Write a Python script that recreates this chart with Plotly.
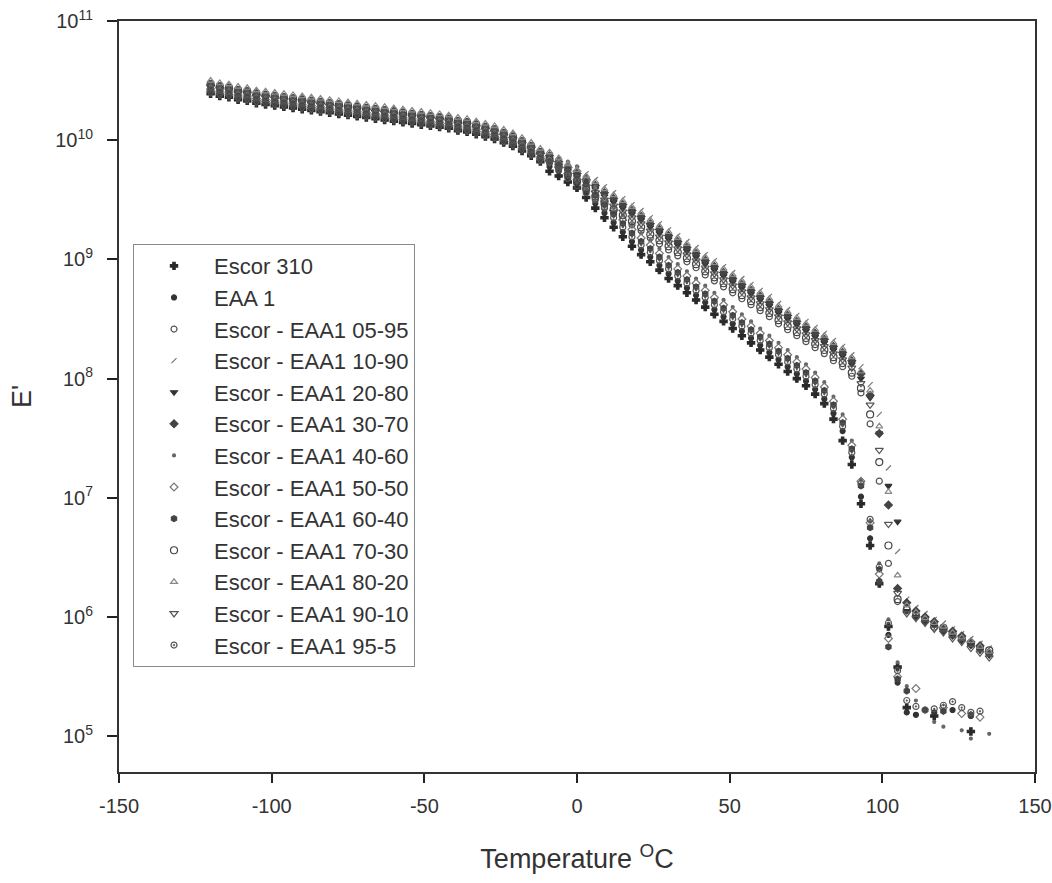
import plotly.graph_objects as go

# temperature of each reading (deg C), shared by every sample
temp_c = [-120, -117, -114, -111, -108, -105, -102, -99, -96, -93,
          -90, -87, -84, -81, -78, -75, -72, -69, -66, -63,
          -60, -57, -54, -51, -48, -45, -42, -39, -36, -33,
          -30, -27, -24, -21, -18, -15, -12, -9, -6, -3,
          0, 3, 6, 9, 12, 15, 18, 21, 24, 27,
          30, 33, 36, 39, 42, 45, 48, 51, 54, 57,
          60, 63, 66, 69, 72, 75, 78, 81, 84, 87,
          90, 93, 96, 99, 102, 105, 108, 111, 114, 117,
          120, 123, 126, 129, 132, 135]

# log10 of E'; rows are -120..-12, -9..45, 48..135
escor_310 = [
    10.39, 10.37, 10.36, 10.34, 10.33, 10.31, 10.30, 10.29, 10.28, 10.27, 10.26, 10.25, 10.24, 10.23, 10.22, 10.21, 10.20, 10.19, 10.18, 10.17, 10.16, 10.15, 10.14, 10.13, 10.12, 10.11, 10.10, 10.08, 10.07, 10.05, 10.03, 10.01, 9.98, 9.95, 9.91, 9.87, 9.82,
    9.74, 9.70, 9.65, 9.60, 9.52, 9.43, 9.35, 9.27, 9.19, 9.11, 9.04, 8.98, 8.91, 8.84, 8.78, 8.72, 8.66, 8.60, 8.54,
    8.48, 8.42, 8.36, 8.30, 8.24, 8.18, 8.12, 8.06, 8.00, 7.94, 7.87, 7.79, 7.66, 7.48, 7.28, 6.95, 6.60, 6.28, 5.92, 5.58, 5.24, None, None, 5.17, None, None, None, 5.04, None, None,
]
eaa_1 = [
    10.41, 10.39, 10.38, 10.36, 10.35, 10.33, 10.32, 10.31, 10.30, 10.29, 10.28, 10.27, 10.26, 10.25, 10.24, 10.23, 10.22, 10.21, 10.20, 10.19, 10.18, 10.17, 10.16, 10.15, 10.14, 10.13, 10.12, 10.10, 10.09, 10.07, 10.05, 10.03, 10.00, 9.97, 9.93, 9.89, 9.84,
    9.78, 9.74, 9.69, 9.64, 9.56, 9.47, 9.39, 9.31, 9.23, 9.15, 9.08, 9.02, 8.95, 8.88, 8.82, 8.76, 8.70, 8.64, 8.58,
    8.52, 8.46, 8.40, 8.34, 8.28, 8.22, 8.16, 8.10, 8.04, 7.98, 7.91, 7.83, 7.71, 7.56, 7.34, 7.01, 6.66, 6.40, 5.85, 5.45, 5.20, 5.18, None, 5.20, None, 5.22, None, 5.17, None, None,
]
blend_05_95 = [
    10.46, 10.43, 10.43, 10.40, 10.40, 10.37, 10.37, 10.35, 10.35, 10.33, 10.33, 10.31, 10.31, 10.29, 10.29, 10.27, 10.27, 10.25, 10.25, 10.23, 10.23, 10.21, 10.21, 10.19, 10.19, 10.17, 10.17, 10.14, 10.14, 10.11, 10.10, 10.07, 10.05, 10.01, 9.98, 9.93, 9.89,
    9.82, 9.75, 9.68, 9.62, 9.56, 9.50, 9.44, 9.39, 9.34, 9.29, 9.24, 9.18, 9.13, 9.08, 9.03, 8.98, 8.93, 8.87, 8.82,
    8.77, 8.72, 8.67, 8.62, 8.57, 8.52, 8.46, 8.41, 8.36, 8.31, 8.26, 8.21, 8.15, 8.10, 8.02, 7.88, 7.62, 7.14, 6.45, 6.13, 6.07, 6.03, 5.98, 5.94, 5.89, 5.85, 5.82, 5.77, 5.75, 5.69,
]
blend_10_90 = [
    10.48, 10.46, 10.45, 10.43, 10.42, 10.40, 10.39, 10.38, 10.37, 10.36, 10.35, 10.34, 10.33, 10.32, 10.31, 10.30, 10.29, 10.28, 10.27, 10.26, 10.25, 10.24, 10.23, 10.22, 10.21, 10.20, 10.19, 10.17, 10.16, 10.14, 10.12, 10.10, 10.07, 10.04, 10.00, 9.96, 9.91,
    9.88, 9.84, 9.80, 9.76, 9.72, 9.67, 9.61, 9.56, 9.51, 9.46, 9.41, 9.35, 9.30, 9.25, 9.20, 9.15, 9.10, 9.04, 8.99,
    8.94, 8.89, 8.84, 8.79, 8.74, 8.69, 8.63, 8.58, 8.53, 8.48, 8.43, 8.38, 8.32, 8.27, 8.20, 8.10, 7.95, 7.70, 7.25, 6.55, 6.15, 6.08, 6.03, 5.98, 5.95, 5.90, 5.86, 5.82, 5.78, 5.74,
]
blend_20_80 = [
    10.44, 10.42, 10.41, 10.39, 10.38, 10.36, 10.35, 10.34, 10.33, 10.32, 10.31, 10.30, 10.29, 10.28, 10.27, 10.26, 10.25, 10.24, 10.23, 10.22, 10.21, 10.20, 10.19, 10.18, 10.17, 10.16, 10.15, 10.13, 10.12, 10.10, 10.08, 10.06, 10.03, 10.00, 9.96, 9.92, 9.87,
    9.84, 9.79, 9.74, 9.69, 9.64, 9.59, 9.53, 9.48, 9.43, 9.38, 9.33, 9.27, 9.22, 9.17, 9.12, 9.07, 9.02, 8.96, 8.91,
    8.86, 8.81, 8.76, 8.71, 8.66, 8.61, 8.55, 8.50, 8.45, 8.40, 8.35, 8.30, 8.24, 8.19, 8.12, 8.00, 7.84, 7.54, 7.10, 6.80, 6.05, 6.00, 5.96, 5.93, 5.88, 5.84, 5.80, 5.76, 5.72, 5.68,
]
blend_30_70 = [
    10.46, 10.44, 10.43, 10.41, 10.40, 10.38, 10.37, 10.36, 10.35, 10.34, 10.33, 10.32, 10.31, 10.30, 10.29, 10.28, 10.27, 10.26, 10.25, 10.24, 10.23, 10.22, 10.21, 10.20, 10.19, 10.18, 10.17, 10.15, 10.14, 10.12, 10.10, 10.08, 10.05, 10.02, 9.98, 9.94, 9.89,
    9.87, 9.82, 9.77, 9.72, 9.67, 9.62, 9.56, 9.51, 9.46, 9.41, 9.36, 9.30, 9.25, 9.20, 9.15, 9.10, 9.05, 8.99, 8.94,
    8.89, 8.84, 8.79, 8.74, 8.69, 8.64, 8.58, 8.53, 8.48, 8.43, 8.38, 8.33, 8.27, 8.22, 8.15, 8.04, 7.86, 7.54, 6.94, 6.24, 6.12, 6.05, 6.00, 5.96, 5.90, 5.88, 5.84, 5.79, 5.76, 5.70,
]
blend_40_60 = [
    10.49, 10.47, 10.46, 10.44, 10.43, 10.41, 10.40, 10.39, 10.38, 10.37, 10.36, 10.35, 10.34, 10.33, 10.32, 10.31, 10.30, 10.29, 10.28, 10.27, 10.26, 10.25, 10.24, 10.23, 10.22, 10.21, 10.20, 10.18, 10.17, 10.15, 10.13, 10.11, 10.08, 10.05, 10.01, 9.97, 9.92,
    9.88, 9.85, 9.82, 9.78, 9.70, 9.61, 9.53, 9.45, 9.37, 9.29, 9.22, 9.16, 9.09, 9.02, 8.96, 8.90, 8.84, 8.78, 8.72,
    8.66, 8.60, 8.54, 8.48, 8.42, 8.36, 8.30, 8.24, 8.18, 8.12, 8.05, 7.97, 7.85, 7.70, 7.48, 7.15, 6.80, 6.45, 5.98, 5.62, 5.42, 5.30, None, 5.12, 5.08, None, 5.05, 4.98, None, 5.02,
]
blend_50_50 = [
    10.43, 10.41, 10.40, 10.38, 10.37, 10.35, 10.34, 10.33, 10.32, 10.31, 10.30, 10.29, 10.28, 10.27, 10.26, 10.25, 10.24, 10.23, 10.22, 10.21, 10.20, 10.19, 10.18, 10.17, 10.16, 10.15, 10.14, 10.12, 10.11, 10.09, 10.07, 10.05, 10.02, 9.99, 9.95, 9.91, 9.86,
    9.83, 9.80, 9.77, 9.74, 9.66, 9.57, 9.49, 9.41, 9.33, 9.25, 9.18, 9.12, 9.05, 8.98, 8.92, 8.86, 8.80, 8.74, 8.68,
    8.62, 8.56, 8.50, 8.44, 8.38, 8.32, 8.26, 8.20, 8.14, 8.08, 8.01, 7.93, 7.81, 7.66, 7.44, 7.14, 6.79, 6.36, 5.82, 5.50, None, 5.40, None, None, 5.24, None, 5.19, None, 5.16, None,
]
blend_60_40 = [
    10.42, 10.40, 10.39, 10.37, 10.36, 10.34, 10.33, 10.32, 10.31, 10.30, 10.29, 10.28, 10.27, 10.26, 10.25, 10.24, 10.23, 10.22, 10.21, 10.20, 10.19, 10.18, 10.17, 10.16, 10.15, 10.14, 10.13, 10.11, 10.10, 10.08, 10.06, 10.04, 10.01, 9.98, 9.94, 9.90, 9.85,
    9.81, 9.79, 9.76, 9.71, 9.63, 9.54, 9.46, 9.38, 9.30, 9.22, 9.15, 9.09, 9.02, 8.95, 8.89, 8.83, 8.77, 8.71, 8.65,
    8.59, 8.53, 8.47, 8.41, 8.35, 8.29, 8.23, 8.17, 8.11, 8.05, 7.98, 7.90, 7.78, 7.63, 7.41, 7.10, 6.75, 6.30, 5.75, 5.48, 5.38, None, 5.22, None, 5.21, None, None, 5.18, None, None,
]
blend_70_30 = [
    10.47, 10.45, 10.44, 10.42, 10.41, 10.39, 10.38, 10.37, 10.36, 10.35, 10.34, 10.33, 10.32, 10.31, 10.30, 10.29, 10.28, 10.27, 10.26, 10.25, 10.24, 10.23, 10.22, 10.21, 10.20, 10.19, 10.18, 10.16, 10.15, 10.13, 10.11, 10.09, 10.06, 10.03, 9.99, 9.95, 9.90,
    9.84, 9.78, 9.71, 9.65, 9.59, 9.53, 9.47, 9.42, 9.37, 9.32, 9.27, 9.21, 9.16, 9.11, 9.06, 9.01, 8.96, 8.90, 8.85,
    8.80, 8.75, 8.70, 8.65, 8.60, 8.55, 8.49, 8.44, 8.39, 8.34, 8.29, 8.24, 8.18, 8.13, 8.05, 7.92, 7.70, 7.30, 6.60, 6.15, 6.06, 6.01, 5.97, 5.92, 5.91, 5.86, 5.82, 5.78, 5.74, 5.72,
]
blend_80_20 = [
    10.50, 10.48, 10.47, 10.45, 10.44, 10.42, 10.41, 10.40, 10.39, 10.38, 10.37, 10.36, 10.35, 10.34, 10.33, 10.32, 10.31, 10.30, 10.29, 10.28, 10.27, 10.26, 10.25, 10.24, 10.23, 10.22, 10.21, 10.19, 10.18, 10.16, 10.14, 10.12, 10.09, 10.06, 10.02, 9.98, 9.93,
    9.90, 9.85, 9.80, 9.75, 9.70, 9.65, 9.59, 9.54, 9.49, 9.44, 9.39, 9.33, 9.28, 9.23, 9.18, 9.13, 9.08, 9.02, 8.97,
    8.92, 8.87, 8.82, 8.77, 8.72, 8.67, 8.61, 8.56, 8.51, 8.46, 8.41, 8.36, 8.30, 8.25, 8.18, 8.06, 7.90, 7.60, 7.05, 6.35, 6.10, 6.04, 5.99, 5.95, 5.92, 5.87, 5.83, 5.80, 5.75, 5.71,
]
blend_90_10 = [
    10.40, 10.38, 10.37, 10.35, 10.34, 10.32, 10.31, 10.30, 10.29, 10.28, 10.27, 10.26, 10.25, 10.24, 10.23, 10.22, 10.21, 10.20, 10.19, 10.18, 10.17, 10.16, 10.15, 10.14, 10.13, 10.12, 10.11, 10.09, 10.08, 10.06, 10.04, 10.02, 9.99, 9.96, 9.92, 9.88, 9.83,
    9.81, 9.76, 9.71, 9.66, 9.61, 9.56, 9.50, 9.45, 9.40, 9.35, 9.30, 9.24, 9.19, 9.14, 9.09, 9.04, 8.99, 8.93, 8.88,
    8.83, 8.78, 8.73, 8.68, 8.63, 8.58, 8.52, 8.47, 8.42, 8.37, 8.32, 8.27, 8.21, 8.16, 8.09, 7.96, 7.78, 7.40, 6.78, 6.20, 6.03, 5.99, 5.95, 5.90, 5.87, 5.82, 5.79, 5.74, 5.70, 5.66,
]
blend_95_5 = [
    10.45, 10.43, 10.42, 10.40, 10.39, 10.37, 10.36, 10.35, 10.34, 10.33, 10.32, 10.31, 10.30, 10.29, 10.28, 10.27, 10.26, 10.25, 10.24, 10.23, 10.22, 10.21, 10.20, 10.19, 10.18, 10.17, 10.16, 10.14, 10.13, 10.11, 10.09, 10.07, 10.04, 10.01, 9.97, 9.93, 9.88,
    9.82, 9.78, 9.73, 9.68, 9.60, 9.51, 9.43, 9.35, 9.27, 9.19, 9.12, 9.06, 8.99, 8.92, 8.86, 8.80, 8.74, 8.68, 8.62,
    8.56, 8.50, 8.44, 8.38, 8.32, 8.26, 8.20, 8.14, 8.08, 8.02, 7.95, 7.87, 7.75, 7.60, 7.38, 7.12, 6.82, 6.42, 5.95, 5.55, 5.30, 5.25, 5.22, 5.23, 5.26, 5.29, 5.24, 5.20, 5.21, None,
]

series = [
    ("Escor 310", escor_310, "cross", 6, "#2a2a2a"),
    ("EAA 1", eaa_1, "circle", 5, "#333333"),
    ("Escor - EAA1 05-95", blend_05_95, "circle-open", 6, "#555555"),
    ("Escor - EAA1 10-90", blend_10_90, "line-ne", 5, "#777777"),
    ("Escor - EAA1 20-80", blend_20_80, "triangle-down", 6, "#333333"),
    ("Escor - EAA1 30-70", blend_30_70, "diamond", 6, "#444444"),
    ("Escor - EAA1 40-60", blend_40_60, "circle", 3, "#666666"),
    ("Escor - EAA1 50-50", blend_50_50, "diamond-open", 6, "#777777"),
    ("Escor - EAA1 60-40", blend_60_40, "hexagon", 6, "#444444"),
    ("Escor - EAA1 70-30", blend_70_30, "circle-open", 7, "#444444"),
    ("Escor - EAA1 80-20", blend_80_20, "triangle-up-open", 6, "#888888"),
    ("Escor - EAA1 90-10", blend_90_10, "triangle-down-open", 7, "#555555"),
    ("Escor - EAA1 95-5", blend_95_5, "circle-open-dot", 6, "#555555"),
]

fig = go.Figure()
for name, logs, sym, size, col in series:
    e_mod = [None if v is None else 10 ** v for v in logs]
    fig.add_trace(go.Scatter(
        x=temp_c, y=e_mod, mode="markers", name=name,
        marker=dict(symbol=sym, size=size, color=col,
                    line=dict(width=1.2, color=col)),
    ))

font_family = "Liberation Sans, Arial, sans-serif"
x_ticks = [-150, -100, -50, 0, 50, 100, 150]
y_ticks = [1e5, 1e6, 1e7, 1e8, 1e9, 1e10, 1e11]
y_tick_text = ["10<sup>5</sup>", "10<sup>6</sup>", "10<sup>7</sup>", "10<sup>8</sup>",
               "10<sup>9</sup>", "10<sup>10</sup>", "10<sup>11</sup>"]

fig.update_layout(
    template="none",
    width=1052, height=883,
    margin=dict(l=119, r=17, t=21, b=111),
    paper_bgcolor="white", plot_bgcolor="white",
    font=dict(family=font_family, color="#333333"),
    legend=dict(x=0.0153, y=0.703, xanchor="left", yanchor="top",
                bordercolor="#8a8a8a", borderwidth=1, bgcolor="white",
                font=dict(size=22, color="#333333"), itemwidth=70,
                tracegroupgap=0),
    xaxis=dict(range=[-150, 150], tickvals=x_ticks, ticktext=[str(t) for t in x_ticks],
               ticks="outside", ticklen=9, tickwidth=2, tickcolor="#222222",
               ticklabelstandoff=6,
               showline=True, linewidth=2, linecolor="#333333", mirror=True,
               showgrid=False, zeroline=False, automargin=False,
               tickfont=dict(size=20),
               title=dict(text="Temperature <sup>O</sup>C", font=dict(size=27),
                          standoff=33)),
    yaxis=dict(type="log", range=[4.7, 11], tickvals=y_ticks, ticktext=y_tick_text,
               ticks="outside", ticklen=10, tickwidth=2, tickcolor="#222222",
               ticklabelstandoff=10,
               showline=True, linewidth=2, linecolor="#333333", mirror=True,
               showgrid=False, zeroline=False, automargin=False,
               tickfont=dict(size=20),
               title=dict(text="E'", font=dict(size=27), standoff=16)),
)

fig.write_html("out.html", config={"displayModeBar": False},
               post_script="document.body.style.margin='0';")
